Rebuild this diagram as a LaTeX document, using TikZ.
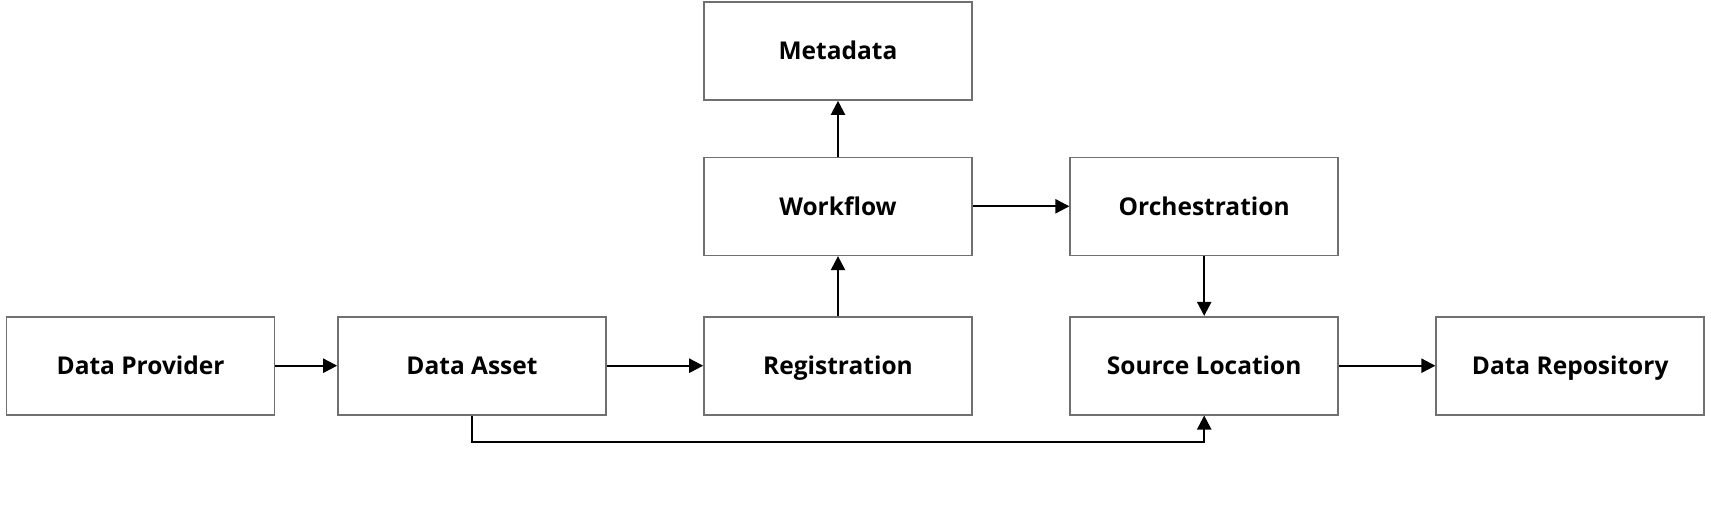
\documentclass[tikz,border=0pt]{standalone}
\usepackage{fontspec}
\setmainfont{Open Sans}
\usetikzlibrary{arrows.meta}
\definecolor{boxgray}{HTML}{707070}
\tikzset{
  box/.style={draw=boxgray, line width=1.6pt, fill=white, minimum width=268pt, minimum height=98pt, inner sep=0pt, text height=17.5pt, text depth=0pt, font=\fontsize{24.5}{28}\selectfont\bfseries, text=black},
  conn/.style={draw=black, line width=2.2pt, -{Triangle[length=14pt, width=14pt]}}
}
\begin{document}
\begin{tikzpicture}[x=1pt, y=-1pt]
\useasboundingbox (0,0) rectangle (1711,531);
\node[box] (prov) at (140.6,365.7) {Data Provider};
\node[box] (asset) at (472,365.7) {Data Asset};
\node[box] (reg) at (838,365.7) {Registration};
\node[box] (wf) at (838,206.3) {Workflow};
\node[box] (meta) at (838,51) {Metadata};
\node[box] (orch) at (1204.2,206.3) {Orchestration};
\node[box] (src) at (1204.2,365.7) {Source Location};
\node[box] (repo) at (1570.2,365.7) {Data Repository};
\coordinate (c1) at (472,442);
\coordinate (c2) at (1204.2,442);
\draw[conn] (prov) -- (asset);
\draw[conn] (asset) -- (reg);
\draw[conn] (reg) -- (wf);
\draw[conn] (wf) -- (meta);
\draw[conn] (wf) -- (orch);
\draw[conn] (orch) -- (src);
\draw[conn] (src) -- (repo);
\draw[conn] (asset.south) -- (c1) -- (c2) -- (src.south);
\end{tikzpicture}
\end{document}
